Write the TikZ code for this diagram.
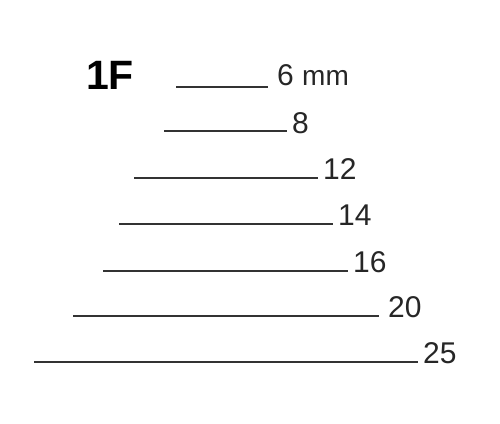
\documentclass[tikz,border=0pt]{standalone}
\usepackage{fontspec}
\setmainfont{Liberation Sans}
\begin{document}
\begin{tikzpicture}[x=1pt,y=-1pt,
  lbl/.style={anchor=base west,inner sep=0pt,font=\fontsize{30}{32}\selectfont,text=black!85},
  rule/.style={draw=black!80,line width=1.8pt}]
\useasboundingbox (0,0) rectangle (500,423);
\node[anchor=base west,inner sep=0pt,font=\fontsize{41}{44}\selectfont\bfseries] (title) at (86,89) {1F};
\node[lbl] (t6) at (277,85) {6 {\fontsize{28}{30}\selectfont mm}};
\node[lbl] (t8) at (292,133) {8};
\node[lbl] (t12) at (323,179) {12};
\node[lbl] (t14) at (338,225) {14};
\node[lbl] (t16) at (353,272) {16};
\node[lbl] (t20) at (388,317) {20};
\node[lbl] (t25) at (423,363) {25};
\draw[rule] (176,87) -- (268,87);
\draw[rule] (164,131) -- (287,131);
\draw[rule] (134,178) -- (318,178);
\draw[rule] (119,224) -- (333,224);
\draw[rule] (103,271) -- (348,271);
\draw[rule] (73,316) -- (379,316);
\draw[rule] (34,362) -- (418,362);
\end{tikzpicture}
\end{document}
